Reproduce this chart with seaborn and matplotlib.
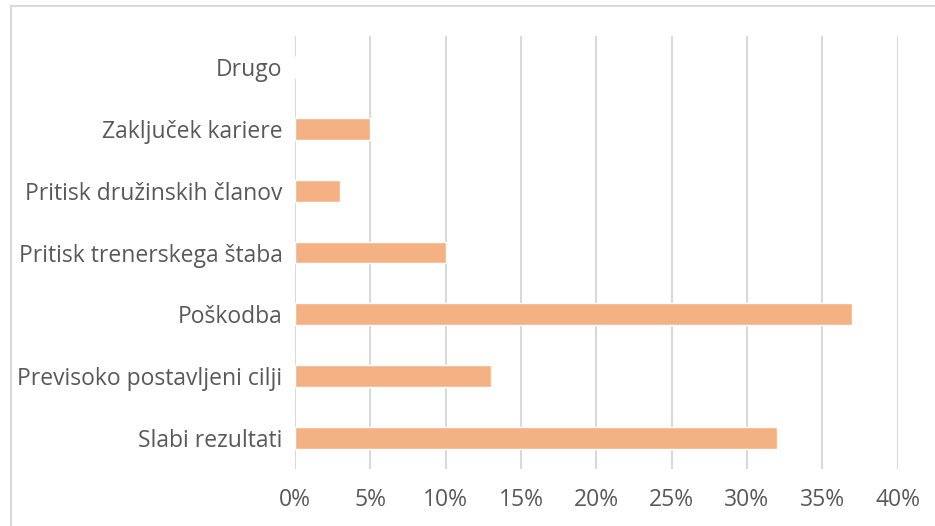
import matplotlib
matplotlib.use("Agg")
import matplotlib.pyplot as plt
from matplotlib.patches import Rectangle
from matplotlib.ticker import FuncFormatter, MultipleLocator
import seaborn as sns
import pandas as pd

categories = [
    "Drugo",
    "Zaključek kariere",
    "Pritisk družinskih članov",
    "Pritisk trenerskega štaba",
    "Poškodba",
    "Previsoko postavljeni cilji",
    "Slabi rezultati",
]
shares = [0, 5, 3, 10, 37, 13, 32]

df = pd.DataFrame({"razlog": categories, "delez": shares})

sns.set_theme(style="white")
plt.rcParams["font.family"] = ["Open Sans", "DejaVu Sans"]

text_color = "#595959"
grid_color = "#D9D9D9"
bar_color = "#F4B183"

W, H = 935, 526
fig = plt.figure(figsize=(W / 100, H / 100), dpi=100)
ax = fig.add_axes([295 / W, 1 - 469 / H, (897.6 - 295) / W, (469 - 36) / H])

sns.barplot(data=df, y="razlog", x="delez", orient="h", color=bar_color,
            saturation=1, width=0.355, ax=ax, zorder=3)

ax.set_xlim(0, 40)
ax.set_ylim(6.5, -0.5)
ax.xaxis.set_major_locator(MultipleLocator(5))
ax.xaxis.set_major_formatter(FuncFormatter(lambda v, _: f"{v:.0f}%"))
ax.grid(axis="x", color=grid_color, linewidth=1.5, zorder=0)
ax.set_axisbelow(True)
for s in ax.spines.values():
    s.set_visible(False)
ax.set_xlabel("")
ax.set_ylabel("")
ax.tick_params(axis="both", length=0, colors=text_color, labelsize=16.5)
ax.tick_params(axis="x", pad=14)
ax.tick_params(axis="y", pad=9)

# light frame around the chart area
fig.patches.append(Rectangle((11 / W, -0.1), 1.2, 1 - 6 / H + 0.1,
                             transform=fig.transFigure, fill=False,
                             edgecolor=grid_color, linewidth=1.5))

fig.savefig("out.png", dpi=100, facecolor="white")
